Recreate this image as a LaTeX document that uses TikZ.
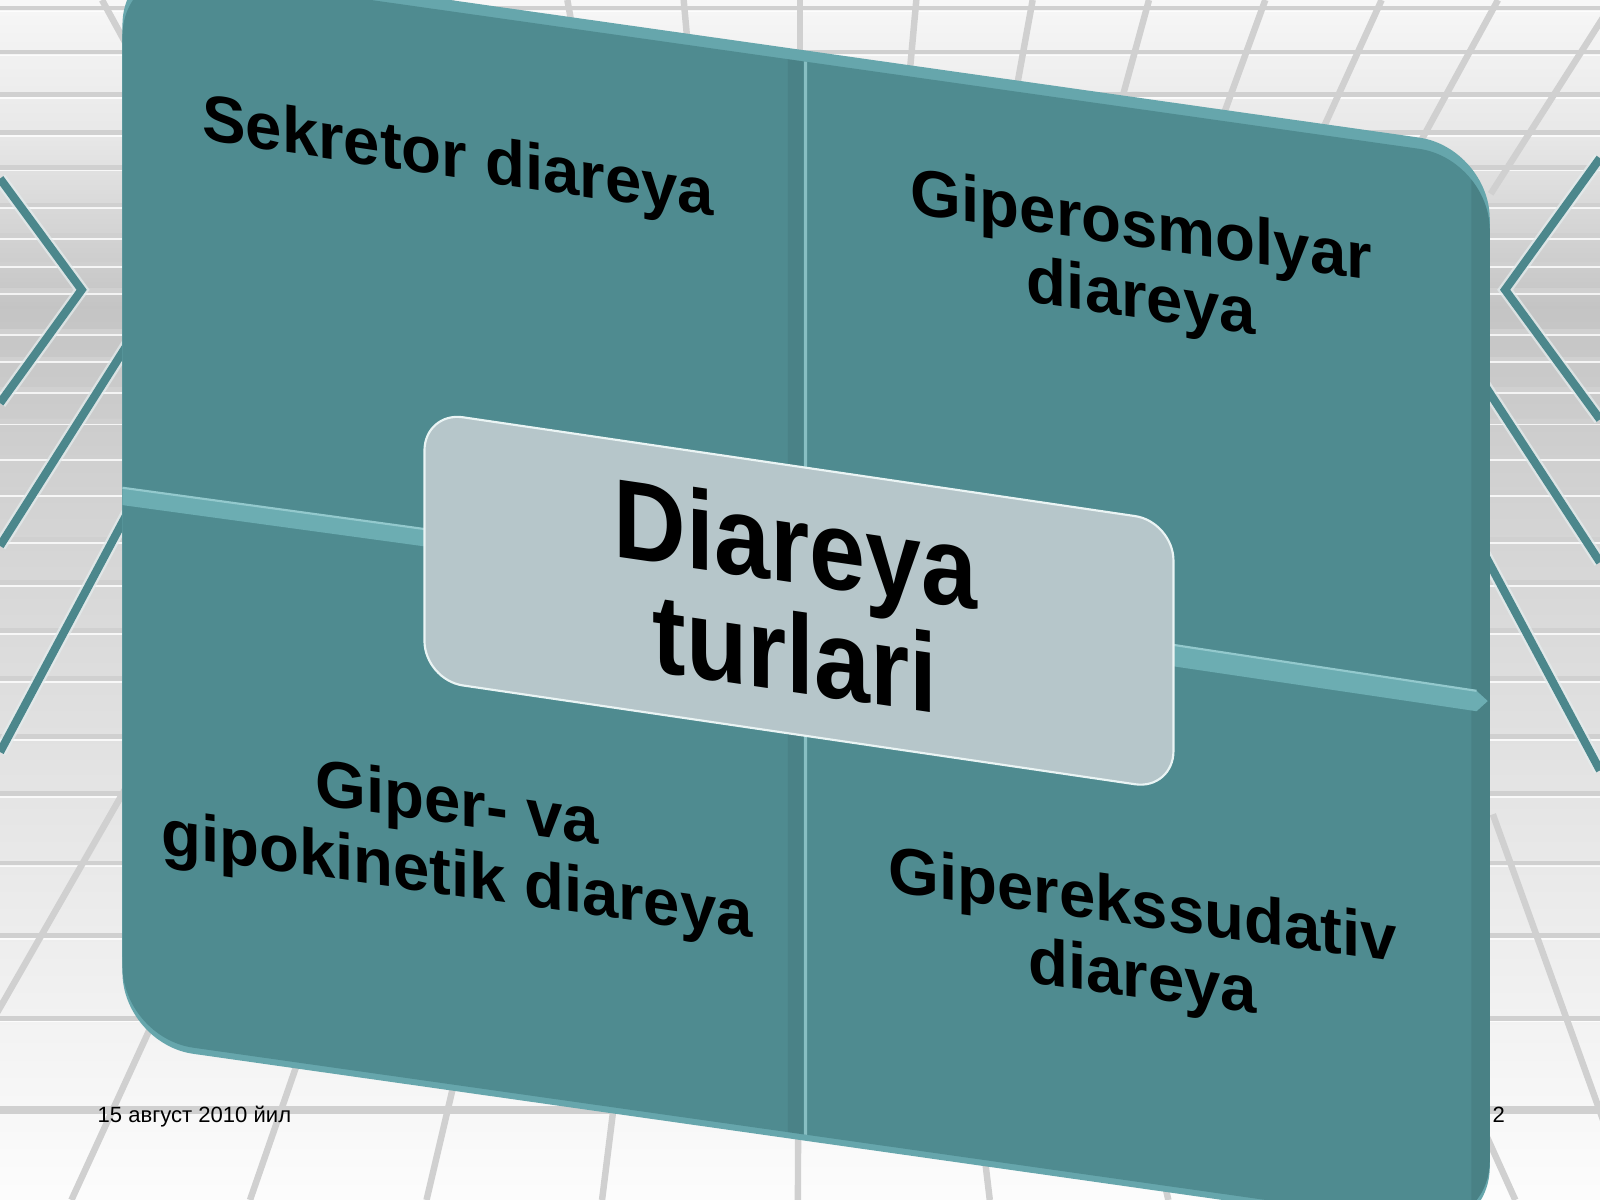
\documentclass[tikz,border=0pt]{standalone}
\usepackage{fontspec}
\setmainfont{Liberation Sans}
\definecolor{panel}{HTML}{4F8B90}
\definecolor{panelrim}{HTML}{66A6AC}
\definecolor{divider}{HTML}{6CADB2}
\definecolor{dividerhi}{HTML}{93C9CD}
\definecolor{boxfill}{HTML}{B6C6CA}
\definecolor{boxrim}{HTML}{EAF4F4}
\definecolor{gridc}{HTML}{D0D0D0}
\definecolor{zig}{HTML}{4C878C}
\tikzset{
  qtext/.style={font=\fontsize{18.2}{19.9}\selectfont\bfseries, text=black, inner sep=0pt, transform shape, anchor=base, align=center},
  ctext/.style={font=\fontsize{31.3}{30.4}\selectfont\bfseries, text=black, inner sep=0pt, transform shape, anchor=base, align=center, xscale=0.895},
  foot/.style={font=\fontsize{6.15}{7}\selectfont, text=black, inner sep=0pt, anchor=base west},
  hline/.style={gridc, line width=1.4pt},
  hlinehi/.style={white, line width=0.5pt, opacity=0.8},
  ray/.style={gridc, line width=1.8pt},
  zigline/.style={zig, line width=2.3pt},
  zigglow/.style={white!85!zig, line width=3.6pt, opacity=0.7},
}
\begin{document}
\begin{tikzpicture}[x=0.01cm, y=-0.01cm]
\useasboundingbox (0,0) rectangle (1568,1176);
\begin{scope}
\clip (0,0) rectangle (1568,1176);
% background bands
\shade[top color=white!97!black, bottom color=white!91!black] (0,-1) rectangle (1568,131);
\shade[top color=white!91!black, bottom color=white!77!black] (0,130) rectangle (1568,301);
\shade[top color=white!77!black, bottom color=white!82!black] (0,300) rectangle (1568,471);
\shade[top color=white!82!black, bottom color=white!89!black] (0,470) rectangle (1568,751);
\shade[top color=white!89!black, bottom color=white!95!black] (0,750) rectangle (1568,1001);
\shade[top color=white!95!black, bottom color=white!99!black] (0,1000) rectangle (1568,1177);
% horizontal grid lines
\foreach \yy in {8,51,93,130,164,201,231,259,285,325,352,382,413,448,483,529,571,618,665,722,778,846,917,998} {
  \draw[hline] (0,\yy) -- (1568,\yy);
  \draw[hlinehi] (0,\yy+3) -- (1568,\yy+3);
}
\draw[gridc, line width=2.2pt] (0,1088) -- (1568,1088);
% top rays
\foreach \k in {-6,...,7} {
  \draw[ray] ({784+114*\k},0) -- ({784+96.7*\k},190);
}
% bottom rays
\foreach \xb in {-108,70,245,418,590,782,970,1145,1315,1485} {
  \draw[ray] ({784+(\xb-784)*0.72},740) -- (\xb,1176);
}
\draw[ray] (1463,798) -- (1600,1178);
% teal zigzags
\foreach \st in {zigglow, zigline} {
  \draw[\st] (0,175) -- (80,284) -- (0,395);
  \draw[\st] (0,535) -- (160,282);
  \draw[\st] (0,737) -- (160,437);
  \draw[\st] (1568,155) -- (1475,284) -- (1568,411);
  \draw[\st] (1568,551) -- (1420,324);
  \draw[\st] (1568,755) -- (1420,478);
}
% main panel
\begin{scope}[shift={(120,-34.6)}, yslant=-0.142]
  \fill[panelrim, rounded corners=0.7cm] (0,-11) -- (1340,-11) -- (1340,1040.5) -- (0,1040.5) -- cycle;
  \fill[panelrim, rounded corners=0.7cm] (0,6) -- (1340,6) -- (1340,1057.5) -- (0,1057.5) -- cycle;
  \fill[panel, rounded corners=0.7cm] (0,0) -- (1340,0) -- (1340,1051.5) -- (0,1051.5) -- cycle;
  \begin{scope}
    \clip[rounded corners=0.7cm] (0,0) -- (1340,0) -- (1340,1051.5) -- (0,1051.5) -- cycle;
    \fill[black, opacity=0.07] (1322,-20) rectangle (1345,1070);
    \fill[black, opacity=0.06] (652,-20) rectangle (667,1070);
    \fill[dividerhi, opacity=0.85] (668,-20) rectangle (671,1070);
  \end{scope}
\end{scope}
% horizontal dividers
\fill[divider] (120,478) -- (420,519) -- (420,536) -- (120,495) -- cycle;
\draw[dividerhi, line width=0.6pt] (120,478) -- (420,519);
\fill[divider] (1150,632) -- (1447,677) -- (1458,687) -- (1447,697) -- (1150,653) -- cycle;
\draw[dividerhi, line width=0.6pt] (1150,632) -- (1447,677);
% centre box
\begin{scope}[shift={(416,403.4)}, yslant=-0.147]
  \filldraw[fill=boxfill, draw=boxrim, line width=0.6pt, rounded corners=0.38cm] (0,0) -- (734,0) -- (734,262.8) -- (0,262.8) -- cycle;
\end{scope}
% texts (anchor at baseline of last line)
\begin{scope}[shift={(449,174.5)}, yslant=-0.149]
  \node[qtext] (sek) at (0,0) {Sekretor diareya};
\end{scope}
\begin{scope}[shift={(1118.5,312)}, yslant=-0.145]
  \node[qtext] (gos) at (0,0) {Giperosmolyar\\diareya};
\end{scope}
\begin{scope}[shift={(448,878)}, yslant=-0.14]
  \node[qtext] (gk) at (0,0) {Giper- va\\gipokinetik diareya};
\end{scope}
\begin{scope}[shift={(1120,978)}, yslant=-0.139]
  \node[qtext] (ge) at (0,0) {Giperekssudativ\\diareya};
\end{scope}
\begin{scope}[shift={(779.5,678.7)}, yslant=-0.146]
  \node[ctext] (centre) at (0,0) {Diareya\\turlari};
\end{scope}
% footer
\node[foot] (date) at (95,1100) {15 август 2010 йил};
\node[foot] (pnum) at (1462,1100) {2};
\end{scope}
\end{tikzpicture}
\end{document}
